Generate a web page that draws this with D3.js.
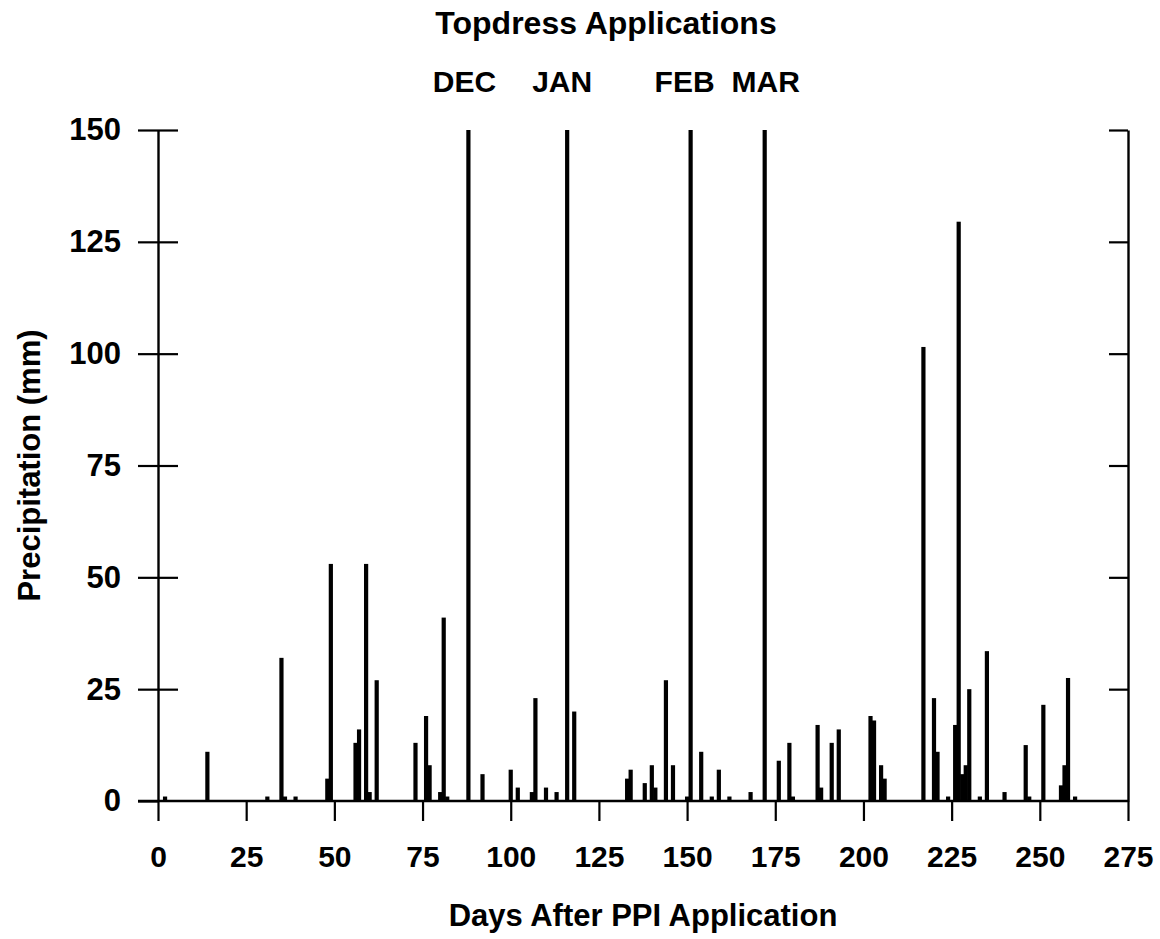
<!DOCTYPE html>
<html>
<head>
<meta charset="utf-8">
<script src="https://cdn.jsdelivr.net/npm/d3@7"></script>
<style>
  body { margin: 0; background: #fff; }
  text { font-family: "Liberation Sans", Arial, Helvetica, sans-serif; font-weight: bold; fill: #000; }
</style>
</head>
<body>
<div id="chart"></div>
<script>
// daily precipitation (mm)
const rainDays = [2, 14, 31, 35, 36, 39, 48, 49, 56, 57, 59, 60, 62, 73, 76, 77, 80, 81, 82, 92,
    100, 102, 106, 107, 110, 113, 118, 133, 134, 138, 140, 141, 144, 146, 150, 154, 157, 159, 162, 168,
    176, 179, 180, 187, 188, 191, 193, 202, 203, 205, 206, 217, 220, 221, 224, 226, 227, 228, 229, 230,
    233, 235, 240, 246, 247, 251, 256, 257, 258, 260];
const rainMm = [1, 11, 1, 32, 1, 1, 5, 53, 13, 16, 53, 2, 27, 13, 19, 8, 2, 41, 1, 6,
    7, 3, 2, 23, 3, 2, 20, 5, 7, 4, 8, 3, 27, 8, 1, 11, 1, 7, 1, 2,
    9, 13, 1, 17, 3, 13, 16, 19, 18, 8, 5, 101.5, 23, 11, 1, 17, 129.5, 6, 8, 25,
    1, 33.5, 2, 12.5, 1, 21.5, 3.5, 8, 27.5, 1];

// topdress application markers
const topdressDays = [88, 116, 151, 172];
const topdressLabels = ["DEC", "JAN", "FEB", "MAR"];
const topdressValue = 150;

const xTicks = [0, 25, 50, 75, 100, 125, 150, 175, 200, 225, 250, 275];
const yTicks = [0, 25, 50, 75, 100, 125, 150];

const width = 1160, height = 939;
const margin = {top: 130, right: 32, bottom: 138, left: 158};
// small horizontal nudges so month labels sit like the original
const labelNudge = [-4, -5, -6, 1];

const svg = d3.select("#chart")
    .append("svg")
    .attr("width", width)
    .attr("height", height);

const x = d3.scaleLinear()
    .domain([0, 275])
    .range([margin.left, width - margin.right]);
const y = d3.scaleLinear()
    .domain([0, 150])
    .range([height - margin.bottom, margin.top]);

const barW = 4.2;

// precipitation bars
const rain = rainDays.map(function(d, i) { return {day: d, mm: rainMm[i]}; });
svg.append("g")
    .selectAll("rect")
    .data(rain)
    .join("rect")
    .attr("x", function(d) { return x(d.day) - barW / 2; })
    .attr("y", function(d) { return y(d.mm); })
    .attr("width", barW)
    .attr("height", function(d) { return y(0) - y(d.mm); })
    .attr("fill", "#000");

// topdress bars
const topdress = topdressDays.map(function(d, i) { return {day: d, label: topdressLabels[i]}; });
svg.append("g")
    .selectAll("rect")
    .data(topdress)
    .join("rect")
    .attr("x", function(d) { return x(d.day) - barW / 2; })
    .attr("y", y(topdressValue))
    .attr("width", barW)
    .attr("height", y(0) - y(topdressValue))
    .attr("fill", "#000");

svg.append("g")
    .selectAll("text")
    .data(topdress)
    .join("text")
    .attr("x", function(d, i) { return x(d.day) + labelNudge[i]; })
    .attr("y", 92)
    .attr("text-anchor", "middle")
    .style("font-size", "30px")
    .text(function(d) { return d.label; });

// X axis
const xAxis = svg.append("g")
    .attr("transform", `translate(0, ${y(0)})`)
    .call(d3.axisBottom(x).tickValues(xTicks).tickSize(20).tickPadding(25));
xAxis.select(".domain").remove();
xAxis.selectAll("line").attr("stroke-width", 2.2);
xAxis.selectAll("text").style("font-size", "30px").attr("font-family", null);

// baseline
svg.append("line")
    .attr("x1", margin.left - 20)
    .attr("x2", x(275))
    .attr("y1", y(0))
    .attr("y2", y(0))
    .attr("stroke", "#000")
    .attr("stroke-width", 2.6);

// left Y axis, ticks cross the axis line
const yAxis = svg.append("g")
    .attr("transform", `translate(${margin.left}, 0)`)
    .call(d3.axisLeft(y).tickValues(yTicks).tickSize(20).tickSizeOuter(0).tickPadding(17));
yAxis.selectAll("line").attr("stroke-width", 2.2);
yAxis.select(".domain").attr("stroke-width", 2.4);
yAxis.selectAll("text").style("font-size", "31px").attr("font-family", null);

svg.append("g")
    .attr("transform", `translate(${margin.left}, 0)`)
    .call(d3.axisRight(y).tickValues(yTicks.slice(1)).tickSize(20).tickFormat(""))
    .call(function(g) { g.select(".domain").remove(); })
    .selectAll("line").attr("stroke-width", 2.2);

// right Y axis, inside ticks only
const yAxisR = svg.append("g")
    .attr("transform", `translate(${x(275)}, 0)`)
    .call(d3.axisLeft(y).tickValues(yTicks.slice(1)).tickSize(19).tickSizeOuter(0).tickFormat(""));
yAxisR.selectAll("line").attr("stroke-width", 2.2);
yAxisR.select(".domain").attr("stroke-width", 2.4);

// titles
svg.append("text")
    .attr("x", 606)
    .attr("y", 34)
    .attr("text-anchor", "middle")
    .style("font-size", "32px")
    .text("Topdress Applications");

svg.append("text")
    .attr("x", (x(0) + x(275)) / 2)
    .attr("y", 926)
    .attr("text-anchor", "middle")
    .style("font-size", "31px")
    .text("Days After PPI Application");

svg.append("text")
    .attr("transform", `translate(40, ${(y(0) + y(150)) / 2}) rotate(-90)`)
    .attr("text-anchor", "middle")
    .style("font-size", "31px")
    .text("Precipitation (mm)");
</script>
</body>
</html>
